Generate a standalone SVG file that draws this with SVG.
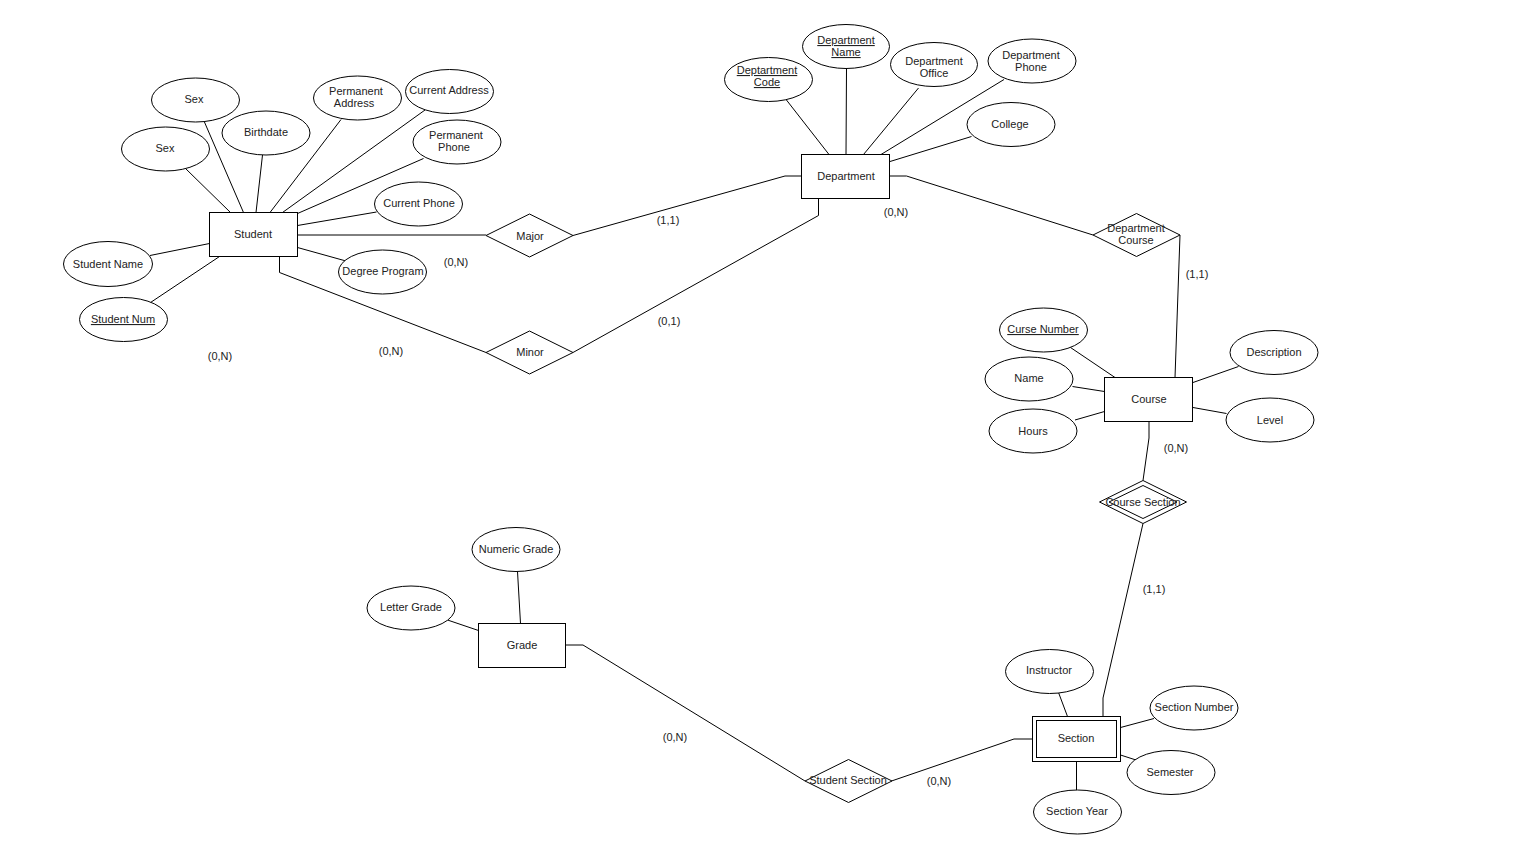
<svg xmlns="http://www.w3.org/2000/svg" width="1526" height="846" viewBox="0 0 1526 846">
<style>
text{font-family:"Liberation Sans",Arial,sans-serif;font-size:11px;fill:#222;text-anchor:middle}
.u{text-decoration:underline}
.s{fill:#fff;stroke:#000;stroke-width:1}
.c{fill:none;stroke:#000;stroke-width:1}
</style>
<rect width="1526" height="846" fill="#fff"/>
<g id="connectors" class="c">
<path d="M204,121L243.5,212.5M185.5,168.5L230.5,212.5M262.5,155L256,212.5M341,119.5L270,212.5M425,110L282.5,212.5M423.5,158.5L297.5,213.5M376.5,212L297.5,225.5M346,261L297.5,247.5M150,255.5L209.5,243.5M150.5,302.5L219.5,256.5"/>
<path d="M784.5,97.5L829,154.5M846.5,68.5L846,154.5M918.5,88L863.5,154.5M1004,79.5L881,154.5M971.5,136.5L890,161.5"/>
<path d="M1070.5,347.5L1115,377.5M1072.5,386.5L1104.5,391.5M1075,420L1104.5,411.5M1238.5,366.5L1193,382.5M1226.5,413.5L1193,407.5"/>
<path d="M1058.5,692.5L1067.5,716.5M1154,718.5L1120.5,727.5M1136,760L1120.5,755M1076.5,761.5L1076.5,790"/>
<path d="M517.5,571.5L520.5,623.5M447.5,620L478.5,630.5"/>
<path d="M297.5,235L486,235"/>
<path d="M279.5,256.5L279.5,272.5L486,352.5"/>
<path d="M573,235.5L785,176L801.5,176"/>
<path d="M818.5,198.5L818.5,215.5L573,352.5"/>
<path d="M890,176L906.5,176L1093,235"/>
<path d="M1180,235L1175,377.5"/>
<path d="M1149,421.5L1149,438L1143,480.5"/>
<path d="M1143,523.5L1103,698L1103,716.5"/>
<path d="M1032.5,739L1014,739L891.5,781"/>
<path d="M565.5,645L583,645L805,781"/>
</g>
<g id="labels">
<text x="456" y="266">(0,N)</text>
<text x="668" y="224">(1,1)</text>
<text x="896" y="216">(0,N)</text>
<text x="1197" y="278">(1,1)</text>
<text x="669" y="325">(0,1)</text>
<text x="391" y="355">(0,N)</text>
<text x="220" y="360">(0,N)</text>
<text x="1176" y="452">(0,N)</text>
<text x="1154" y="593">(1,1)</text>
<text x="675" y="741">(0,N)</text>
<text x="939" y="785">(0,N)</text>
</g>
<g id="student"><rect class="s" x="209.5" y="212.5" width="88" height="44"/><text x="253" y="238">Student</text></g>
<g id="department"><rect class="s" x="801.5" y="154.5" width="88" height="44"/><text x="846" y="180">Department</text></g>
<g id="course"><rect class="s" x="1104.5" y="377.5" width="88" height="44"/><text x="1149" y="403">Course</text></g>
<g id="grade"><rect class="s" x="478.5" y="623.5" width="87" height="44"/><text x="522" y="649">Grade</text></g>
<g id="section"><rect class="s" x="1032.5" y="716.5" width="88" height="45"/><rect class="s" x="1036.5" y="720.5" width="80" height="37"/><text x="1076" y="742">Section</text></g>
<g id="major"><polygon class="s" points="486,235.5 529.5,214 573,235.5 529.5,257"/><text x="530" y="240">Major</text></g>
<g id="minor"><polygon class="s" points="486,352.5 529.5,331 573,352.5 529.5,374"/><text x="530" y="356">Minor</text></g>
<g id="department-course"><polygon class="s" points="1093,235 1136.5,213.5 1180,235 1136.5,256.5"/><text x="1136" y="232">Department</text><text x="1136" y="244">Course</text></g>
<g id="course-section"><polygon class="s" points="1099.5,502 1143,480.5 1186.5,502 1143,523.5"/><polygon class="s" points="1109,502 1143,485.5 1177,502 1143,518.5"/><text x="1143" y="506">Course Section</text></g>
<g id="student-section"><polygon class="s" points="805,781 848.5,759.5 892,781 848.5,802.5"/><text x="848" y="784">Student Section</text></g>
<g id="attr-sex1"><ellipse class="s" cx="195.5" cy="100" rx="44" ry="22"/><text x="194" y="103">Sex</text></g>
<g id="attr-sex2"><ellipse class="s" cx="165.5" cy="149" rx="44" ry="22"/><text x="165" y="152">Sex</text></g>
<g id="attr-birthdate"><ellipse class="s" cx="266" cy="133" rx="44" ry="22"/><text x="266" y="136">Birthdate</text></g>
<g id="attr-perm-address"><ellipse class="s" cx="357.5" cy="98" rx="44" ry="22"/><text x="356" y="95">Permanent</text><text x="354" y="107">Address</text></g>
<g id="attr-cur-address"><ellipse class="s" cx="449.5" cy="91.5" rx="44" ry="22"/><text x="449" y="94">Current Address</text></g>
<g id="attr-perm-phone"><ellipse class="s" cx="457" cy="142" rx="44" ry="22"/><text x="456" y="139">Permanent</text><text x="454" y="151">Phone</text></g>
<g id="attr-cur-phone"><ellipse class="s" cx="418.5" cy="204" rx="44" ry="22"/><text x="419" y="207">Current Phone</text></g>
<g id="attr-degree"><ellipse class="s" cx="382.5" cy="272" rx="44" ry="22"/><text x="383" y="275">Degree Program</text></g>
<g id="attr-student-name"><ellipse class="s" cx="108" cy="264" rx="44.5" ry="22.5"/><text x="108" y="268">Student Name</text></g>
<g id="attr-student-num"><ellipse class="s" cx="123.5" cy="319.5" rx="44" ry="22"/><text x="123" y="323" class="u">Student Num</text></g>
<g id="attr-dept-code"><ellipse class="s" cx="768.5" cy="79.5" rx="44" ry="22"/><text x="767" y="74" class="u">Deptartment</text><text x="767" y="86" class="u">Code</text></g>
<g id="attr-dept-name"><ellipse class="s" cx="846" cy="46.5" rx="43.5" ry="22"/><text x="846" y="44" class="u">Department</text><text x="846" y="56" class="u">Name</text></g>
<g id="attr-dept-office"><ellipse class="s" cx="934" cy="64.5" rx="43.5" ry="22"/><text x="934" y="65">Department</text><text x="934" y="77">Office</text></g>
<g id="attr-dept-phone"><ellipse class="s" cx="1032" cy="61" rx="44" ry="22"/><text x="1031" y="59">Department</text><text x="1031" y="71">Phone</text></g>
<g id="attr-college"><ellipse class="s" cx="1011" cy="124.5" rx="44" ry="22"/><text x="1010" y="128">College</text></g>
<g id="attr-curse-number"><ellipse class="s" cx="1043.5" cy="330" rx="44" ry="22"/><text x="1043" y="333" class="u">Curse Number</text></g>
<g id="attr-name"><ellipse class="s" cx="1029" cy="379" rx="44" ry="22"/><text x="1029" y="382">Name</text></g>
<g id="attr-hours"><ellipse class="s" cx="1033" cy="431" rx="44" ry="22"/><text x="1033" y="435">Hours</text></g>
<g id="attr-description"><ellipse class="s" cx="1274" cy="352.5" rx="44" ry="22"/><text x="1274" y="356">Description</text></g>
<g id="attr-level"><ellipse class="s" cx="1270" cy="420" rx="44" ry="22"/><text x="1270" y="424">Level</text></g>
<g id="attr-instructor"><ellipse class="s" cx="1049.5" cy="671.5" rx="44" ry="22"/><text x="1049" y="674">Instructor</text></g>
<g id="attr-section-number"><ellipse class="s" cx="1194" cy="708" rx="44" ry="22"/><text x="1194" y="711">Section Number</text></g>
<g id="attr-semester"><ellipse class="s" cx="1171" cy="772.5" rx="44" ry="22"/><text x="1170" y="776">Semester</text></g>
<g id="attr-section-year"><ellipse class="s" cx="1077.5" cy="812" rx="44" ry="22"/><text x="1077" y="815">Section Year</text></g>
<g id="attr-numeric-grade"><ellipse class="s" cx="516" cy="549.5" rx="44" ry="22"/><text x="516" y="553">Numeric Grade</text></g>
<g id="attr-letter-grade"><ellipse class="s" cx="411" cy="608" rx="44" ry="22"/><text x="411" y="611">Letter Grade</text></g>
</svg>
